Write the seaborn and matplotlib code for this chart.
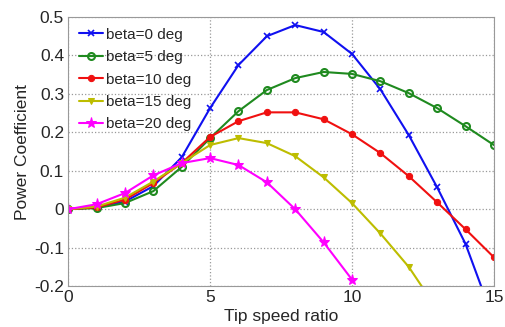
import matplotlib
matplotlib.use("Agg")
import matplotlib.pyplot as plt
import pandas as pd
import seaborn as sns

tsr = list(range(16))

cp_beta0 = [0.0, 0.005, 0.02, 0.06, 0.135, 0.263, 0.375, 0.45, 0.479, 0.461,
            0.404, 0.312, 0.193, 0.057, -0.09, -0.29]
cp_beta5 = [0.0, 0.003, 0.016, 0.047, 0.11, 0.185, 0.255, 0.31, 0.341, 0.357,
            0.352, 0.333, 0.302, 0.263, 0.216, 0.167]
cp_beta10 = [0.0, 0.005, 0.025, 0.068, 0.12, 0.188, 0.229, 0.252, 0.252, 0.234,
             0.195, 0.146, 0.086, 0.018, -0.052, -0.125]
cp_beta15 = [0.0, 0.007, 0.03, 0.072, 0.12, 0.167, 0.185, 0.172, 0.138, 0.083,
             0.016, -0.063, -0.15, -0.26]
cp_beta20 = [0.0, 0.013, 0.042, 0.088, 0.12, 0.133, 0.115, 0.07, 0.0, -0.086,
             -0.183]

series = [
    ("beta=0 deg", cp_beta0, "#1010f0", dict(marker="x", markersize=4, mew=1.2)),
    ("beta=5 deg", cp_beta5, "#1f8a1f", dict(marker="o", markersize=5, mfc="none", mew=1.5)),
    ("beta=10 deg", cp_beta10, "#f01010", dict(marker="o", markersize=4.5)),
    ("beta=15 deg", cp_beta15, "#bdbd00", dict(marker="v", markersize=5)),
    ("beta=20 deg", cp_beta20, "#ff00ff", dict(marker="*", markersize=8)),
]

sns.set_style("white")
plt.rcParams["font.family"] = ["Liberation Sans", "DejaVu Sans"]

fig = plt.figure(figsize=(5.05, 3.27), dpi=100)
ax = fig.add_axes([0.135, 0.125, 0.843, 0.823])

for name, vals, color, mk in series:
    df = pd.DataFrame({"x": tsr[:len(vals)], "y": vals})
    sns.lineplot(data=df, x="x", y="y", ax=ax, color=color, linewidth=1.5,
                 label=name, markeredgecolor=color, **mk)

ax.set_xlim(0, 15)
ax.set_ylim(-0.2, 0.5)
ax.set_xticks([0, 5, 10, 15])
ax.set_yticks([-0.2, -0.1, 0, 0.1, 0.2, 0.3, 0.4, 0.5])
ax.set_yticklabels(["-0.2", "-0.1", "0", "0.1", "0.2", "0.3", "0.4", "0.5"])
ax.grid(True, linestyle=":", color="#999999", linewidth=0.9)
for s in ax.spines.values():
    s.set_color("#999999")
ax.tick_params(labelsize=12.5, length=0, pad=3)
ax.set_xlabel("Tip speed ratio", fontsize=12.5, labelpad=3)
ax.set_ylabel("Power Coefficient", fontsize=12.5, labelpad=3)

leg = ax.legend(loc="upper left", fontsize=11, frameon=False, handlelength=1.6,
                handletextpad=0.2, labelspacing=0.55, borderaxespad=0.3)

fig.savefig("out.png", dpi=100)
